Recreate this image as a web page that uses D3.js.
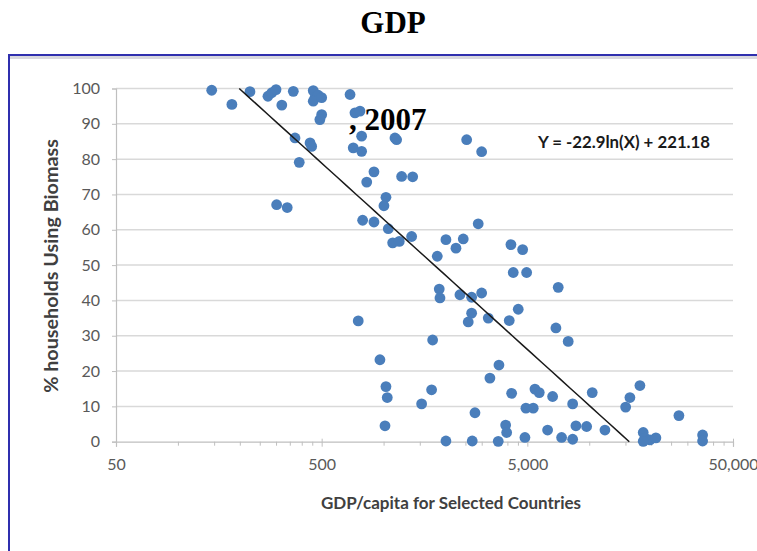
<!DOCTYPE html>
<html>
<head>
<meta charset="utf-8">
<script src="https://cdn.jsdelivr.net/npm/d3@7"></script>
<style>
  html, body { margin: 0; padding: 0; background: #fff; }
  svg { display: block; }
</style>
</head>
<body>
<svg id="chart" width="757" height="551"></svg>
<script>
// GDP per capita (US$) of each country, and share of households using biomass (%)
const gdp = [
  146,183,224,274,286,300,320,364,455,464,
  481,455,500,500,490,371,439,447,389,302,
  340,687,726,768,782,712,782,1136,1157,2535,
  2998,898,828,1224,1385,1027,1004,791,898,1054,
  1107,1192,1369,2010,2249,2440,1824,2885,4161,4744,
  4270,4961,1865,1880,2351,2680,2998,2680,2580,3228,
  4083,4516,753,1732,7066,6886,7901,960,3639,3289,
  1027,1042,1712,1531,4194,4922,5341,5444,5713,6636,
  2782,1016,3922,3967,4867,2010,2698,3610,8305,10340,
  17635,15767,15032,27290,6274,7339,8305,8614,9711,11920,
  18300,18650,19720,21090,35570,35570,18300
];
const biomass = [
  99.5,95.5,99.1,97.8,98.8,99.7,95.3,99.2,99.4,97.4,
  98.1,96.4,97.4,92.6,91.2,86.0,84.6,83.6,79.1,67.1,
  66.3,98.3,93.1,93.6,86.5,83.2,82.2,86.0,85.5,85.5,
  82.1,76.4,73.5,75.1,75.0,69.2,66.8,62.7,62.2,60.3,
  56.3,56.7,58.1,57.2,54.8,57.4,52.5,61.7,55.8,54.4,
  47.9,47.9,43.2,40.7,41.6,40.9,42.1,36.4,33.9,35.0,
  34.3,37.5,34.2,28.8,43.7,32.2,28.4,23.2,21.7,18.0,
  15.6,12.5,14.7,10.7,13.7,9.5,9.5,14.9,13.9,12.8,
  8.2,4.5,4.7,2.6,1.2,0.2,0.2,0.1,10.7,13.9,
  15.9,12.5,9.8,7.4,3.3,1.2,0.7,4.5,4.3,3.3,
  2.6,1.0,0.5,1.1,1.9,0.2,0.1
];

// Axis ticks
const xMajor = [50, 500, 5000, 50000];
const xMajorLabels = ["50", "500", "5,000", "50,000"];
const yTicks = [0, 10, 20, 30, 40, 50, 60, 70, 80, 90, 100];

// Logarithmic trend: Y = a*ln(X) + b
const trendA = -22.9;
const trendB = 221.18;
const trendLabel = "Y = -22.9ln(X) + 221.18";

const svg = d3.select("#chart");
const labelFont = "Lato, 'Open Sans', sans-serif";

const x = d3.scaleLog().domain([50, 50000]).range([116, 733]);
const y = d3.scaleLinear().domain([0, 100]).range([441.7, 88.5]);

// Page title
svg.append("text")
  .attr("x", 393).attr("y", 33)
  .attr("text-anchor", "middle")
  .attr("font-family", "'Liberation Serif', 'Times New Roman', serif")
  .attr("font-weight", "bold")
  .attr("font-size", 31)
  .attr("fill", "#000")
  .text("GDP");

// Framed panel
svg.append("line")
  .attr("x1", 10).attr("x2", 760).attr("y1", 57.5).attr("y2", 57.5)
  .attr("stroke", "#d8d8de").attr("stroke-width", 3);
svg.append("rect")
  .attr("x", 9).attr("y", 55)
  .attr("width", 760).attr("height", 520)
  .attr("fill", "none")
  .attr("stroke", "#2f2fae")
  .attr("stroke-width", 2);

// Horizontal gridlines
svg.append("g")
  .selectAll("line")
  .data(yTicks.filter(d => d > 0))
  .join("line")
  .attr("x1", x.range()[0]).attr("x2", x.range()[1])
  .attr("y1", d => y(d)).attr("y2", d => y(d))
  .attr("stroke", "#d9d9d9")
  .attr("stroke-width", 1.5);

// Y axis
const yAxis = svg.append("g")
  .attr("transform", `translate(${x.range()[0]},0)`)
  .call(d3.axisLeft(y).tickValues(yTicks).tickSize(4).tickPadding(12));
yAxis.select(".domain").attr("stroke", "#bfbfbf").attr("stroke-width", 1.2);
yAxis.selectAll(".tick line").attr("stroke", "#bfbfbf");
yAxis.selectAll("text")
  .attr("font-family", labelFont)
  .attr("font-size", 16)
  .attr("fill", "#595959");

// X axis: minor ticks at each multiple of the decade start
const xMinor = [];
xMajor.slice(0, -1).forEach(b => { for (let k = 2; k <= 9; k++) xMinor.push(b * k); });

const xMinorAxis = svg.append("g")
  .attr("transform", `translate(0,${y(0)})`)
  .call(d3.axisBottom(x).tickValues(xMinor).tickSize(4).tickFormat(""));
xMinorAxis.select(".domain").remove();
xMinorAxis.selectAll(".tick line").attr("stroke", "#bfbfbf");

const xAxis = svg.append("g")
  .attr("transform", `translate(0,${y(0)})`)
  .call(d3.axisBottom(x).tickValues(xMajor).tickSize(5).tickPadding(12)
    .tickFormat((d, i) => xMajorLabels[i]));
xAxis.select(".domain").attr("stroke", "#bfbfbf").attr("stroke-width", 1.2);
xAxis.selectAll(".tick line").attr("stroke", "#bfbfbf").attr("y1", -3);
xAxis.selectAll("text")
  .attr("font-family", labelFont)
  .attr("font-size", 16)
  .attr("fill", "#595959");

// Axis titles
svg.append("text")
  .attr("x", 451).attr("y", 509)
  .attr("text-anchor", "middle")
  .attr("font-family", labelFont)
  .attr("font-weight", "bold")
  .attr("font-size", 17)
  .attr("fill", "#404040")
  .text("GDP/capita for Selected Countries");

svg.append("text")
  .attr("transform", "translate(58,266) rotate(-90)")
  .attr("text-anchor", "middle")
  .attr("font-family", labelFont)
  .attr("font-weight", "bold")
  .attr("font-size", 19.8)
  .attr("fill", "#404040")
  .text("% households Using Biomass");

// Data points
const points = gdp.map((g, i) => ({ g, b: biomass[i] }));
svg.append("g")
  .selectAll("circle")
  .data(points)
  .join("circle")
  .attr("cx", d => x(d.g))
  .attr("cy", d => y(d.b))
  .attr("r", 5.4)
  .attr("fill", "#4a7ebb");

// Trend line, drawn over the range where it stays between 0% and 100%
const xAtY = v => Math.exp((v - trendB) / trendA);
const trendX = d3.range(0, 41).map(i => {
  const lo = Math.log(xAtY(100)), hi = Math.log(xAtY(0));
  return Math.exp(lo + (hi - lo) * i / 40);
});
svg.append("path")
  .datum(trendX)
  .attr("fill", "none")
  .attr("stroke", "#1a1a1a")
  .attr("stroke-width", 1.5)
  .attr("d", d3.line().x(d => x(d)).y(d => y(trendA * Math.log(d) + trendB)));

svg.append("text")
  .attr("x", 624).attr("y", 148)
  .attr("text-anchor", "middle")
  .attr("font-family", labelFont)
  .attr("font-weight", "bold")
  .attr("font-size", 16.8)
  .attr("fill", "#1a1a1a")
  .text(trendLabel);

// Year caption
svg.append("text")
  .attr("x", 349).attr("y", 130)
  .attr("font-family", "'Liberation Serif', 'Times New Roman', serif")
  .attr("font-weight", "bold")
  .attr("font-size", 31)
  .attr("fill", "#000")
  .text(", 2007");
</script>
</body>
</html>
